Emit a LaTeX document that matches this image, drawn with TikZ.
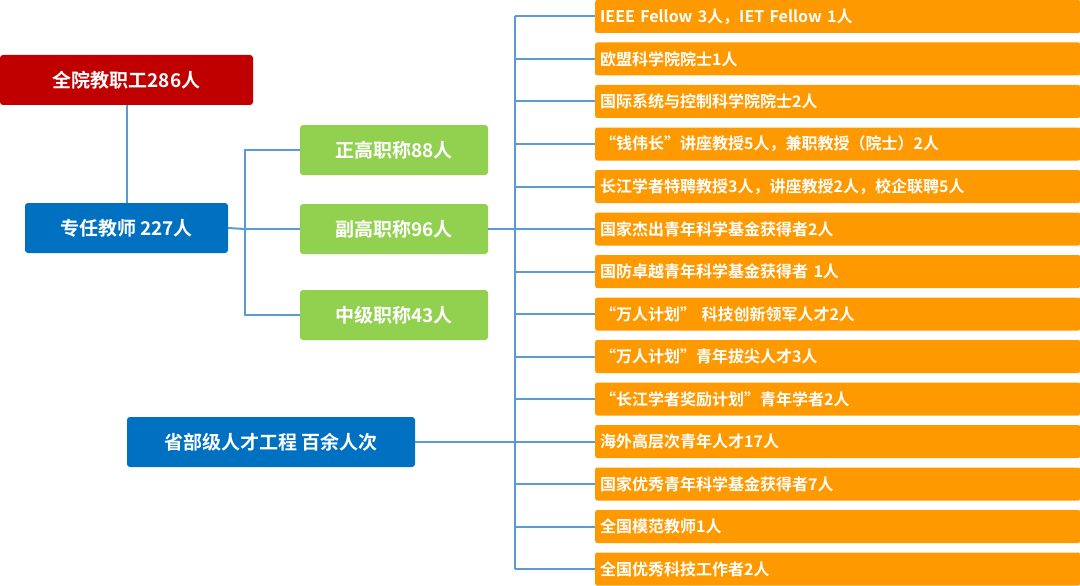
\documentclass[tikz,border=0pt]{standalone}
\usepackage{fontspec}
\setmainfont{Noto Sans CJK SC}[BoldFont={* Bold}]
\begin{document}
\begin{tikzpicture}[x=1pt,y=-1pt,
  box/.style={rounded corners=3pt,font=\bfseries\fontsize{19}{19}\selectfont,text=white,inner sep=0pt},
  redbox/.style={box,fill={rgb,255:red,192;green,0;blue,0}},
  bluebox/.style={box,fill={rgb,255:red,0;green,112;blue,192}},
  greenbox/.style={box,fill={rgb,255:red,146;green,208;blue,80},minimum width=188pt,minimum height=50pt},
  orangebox/.style={box,fill={rgb,255:red,255;green,153;blue,0},anchor=west,minimum width=485pt,minimum height=33pt,text width=475pt,align=left,font=\bfseries\fontsize{16}{16}\selectfont,rounded corners=2pt},
  link/.style={draw={rgb,255:red,91;green,155;blue,213},line width=2pt}]
\useasboundingbox (0,0) rectangle (1080,586);

% left part
\node[redbox,minimum width=253pt,minimum height=50pt] (staff) at (126.5,80) {全院教职工286人};
\node[bluebox,minimum width=203pt,minimum height=50pt] (teacher) at (126.5,228) {专任教师 227人};
\node[bluebox,minimum width=288pt,minimum height=50pt] (talent) at (271,442) {省部级人才工程 百余人次};
\node[greenbox] (senior) at (394,150) {正高职称88人};
\node[greenbox] (assoc) at (394,229) {副高职称96人};
\node[greenbox] (middle) at (394,315) {中级职称43人};

\draw[link] (staff) -- (teacher);
\coordinate (split) at (245,229);
\draw[link] (teacher.east) -- (split);
\draw[link] (senior.west) -- (245,150) -- (245,315) -- (middle.west);
\draw[link] (split) -- (assoc.west);

% right list
\coordinate (bar) at (515,229);
\foreach \i/\t in {0/{IEEE Fellow 3人，IET Fellow 1人},
  1/{欧盟科学院院士1人},
  2/{国际系统与控制科学院院士2人},
  3/{“钱伟长”讲座教授5人，兼职教授（院士）2人},
  4/{长江学者特聘教授3人，讲座教授2人，校企联聘5人},
  5/{国家杰出青年科学基金获得者2人},
  6/{国防卓越青年科学基金获得者 1人},
  7/{“万人计划” 科技创新领军人才2人},
  8/{“万人计划”青年拔尖人才3人},
  9/{“长江学者奖励计划”青年学者2人},
  10/{海外高层次青年人才17人},
  11/{国家优秀青年科学基金获得者7人},
  12/{全国模范教师1人},
  13/{全国优秀科技工作者2人}}{
  \node[orangebox] (honor\i) at (595,16.5+42.5*\i) {\t};
  \draw[link] (515,16.5+42.5*\i) -- (honor\i.west);
}
\draw[link] (515,16.5) -- (515,569);
\draw[link] (assoc.east) -- (bar);
\draw[link] (talent.east) -- (515,442);
\end{tikzpicture}
\end{document}
